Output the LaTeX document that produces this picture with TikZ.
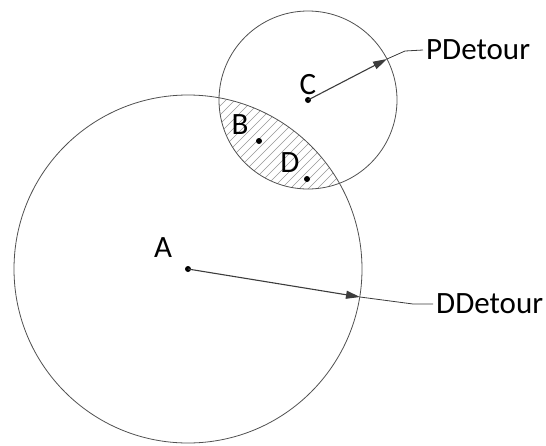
\documentclass[tikz,border=0pt]{standalone}
\usepackage{fontspec}
\setmainfont{Carlito}
\usepackage{tikz}
\usetikzlibrary{positioning,arrows.meta}
\definecolor{rim}{RGB}{80,80,80}
\definecolor{ink}{RGB}{60,60,60}
\definecolor{hatchgray}{RGB}{150,150,150}

\begin{document}
\begin{tikzpicture}[x=1pt, y=-1pt,
		rim/.style={draw=rim, line width=0.8pt},
		dot/.style={circle, fill=black, inner sep=0pt, minimum size=6pt},
		lbl/.style={inner sep=0pt, font=\fontsize{31}{36}\selectfont},
		tag/.style={inner sep=3pt, anchor=west, font=\fontsize{31}{36}\selectfont},
		arr/.style={-{Triangle[length=14pt, width=8pt]}, line width=1.1pt, ink},
		lead/.style={line width=0.8pt, ink}]
		\useasboundingbox (0,0) rectangle (546,445);
		% centres and points on the rims
		\coordinate (A) at (188,269);
		\coordinate (C) at (308,100);
		\coordinate (Arim) at (360,297);
		\coordinate (Crim) at (387,59);
		\coordinate (Akink) at (413,304);
		\coordinate (Ckink) at (405,51);
		% shared region, hatched
		\begin{scope}
			\clip (A) circle (174);
			\clip (C) circle (89);
			\foreach \s in {90,99,...,360}
				\draw[hatchgray, line width=0.6pt] (\s,200) -- ++(130,-130);
		\end{scope}
		\draw[rim] (A) circle (174);
		\draw[rim] (C) circle (89);
		% points
		\node[dot] (a) at (A) {};
		\node[dot] (c) at (C) {};
		\node[dot] (b) at (259,141) {};
		\node[dot] (d) at (307,179) {};
		\node[lbl] (lA) at (163,248) {A};
		\node[lbl] (lB) at (240,125) {B};
		\node[lbl] (lC) at (308,85) {C};
		\node[lbl] (lD) at (290,163) {D};
		% radii and their tags
		\node[tag] (ptag) at (423,50) {PDetour};
		\node[tag] (dtag) at (433,304) {DDetour};
		\draw[arr] (C) -- (Crim);
		\draw[arr] (A) -- (Arim);
		\draw[lead] (Crim) -- (Ckink) -- (ptag.west);
		\draw[lead] (Arim) -- (Akink) -- (dtag.west);
	\end{tikzpicture}
\end{document}
